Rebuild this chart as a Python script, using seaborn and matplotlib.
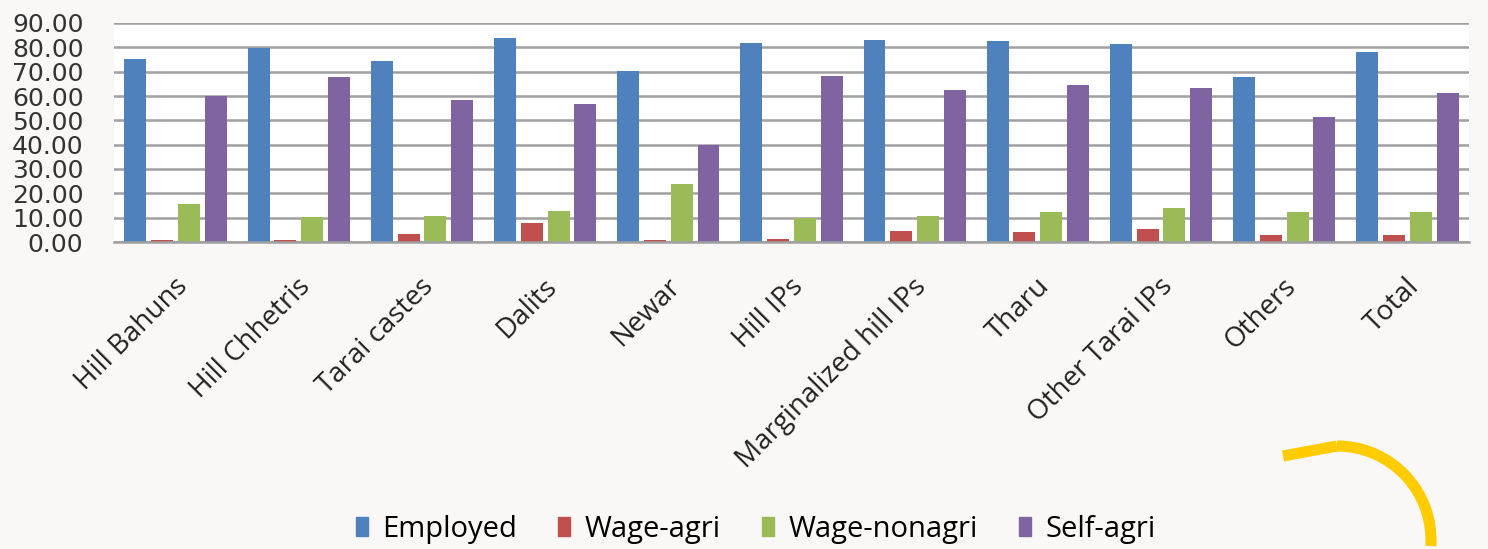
import numpy as np
import pandas as pd
import matplotlib.pyplot as plt
import matplotlib.transforms as mtransforms
import seaborn as sns
from matplotlib.patches import Arc
from matplotlib.lines import Line2D

categories = ["Hill Bahuns", "Hill Chhetris", "Tarai castes", "Dalits", "Newar",
              "Hill IPs", "Marginalized hill IPs", "Tharu", "Other Tarai IPs",
              "Others", "Total"]
series_names = ["Employed", "Wage-agri", "Wage-nonagri", "Self-agri"]

employed = [75.3, 79.7, 74.2, 83.8, 70.3, 81.9, 83.1, 82.5, 81.4, 67.8, 78.1]
wage_agri = [0.7, 0.7, 3.3, 7.8, 0.7, 1.4, 4.6, 4.0, 5.2, 2.7, 2.7]
wage_nonagri = [15.5, 10.1, 10.8, 12.9, 23.7, 9.9, 10.8, 12.2, 14.1, 12.2, 12.2]
self_agri = [60.0, 67.8, 58.4, 56.8, 39.9, 68.4, 62.6, 64.7, 63.3, 51.2, 61.4]

colors = ["#4f81bd", "#c0504d", "#9bbb59", "#8064a2"]
BG = "#f9f8f7"

df = pd.DataFrame({
    "category": categories * 4,
    "series": np.repeat(series_names, len(categories)),
    "value": employed + wage_agri + wage_nonagri + self_agri,
})

W, H = 1488, 549
fig = plt.figure(figsize=(W / 100, H / 100), dpi=100, facecolor=BG)
plt.rcParams["font.family"] = ["Open Sans", "DejaVu Sans"]

ax = fig.add_axes([114 / W, 1 - 242 / H, (1469 - 114) / W, (242 - 23) / H])
ax.set_facecolor("white")

sns.barplot(data=df, x="category", y="value", hue="series", hue_order=series_names,
            palette=colors, width=0.87, gap=0.18, ax=ax, saturation=1,
            edgecolor="none", legend=True)

ax.set_ylim(0, 90)
ax.set_yticks(np.arange(0, 91, 10))
ax.set_yticklabels([f"{v:.2f}" for v in range(0, 91, 10)], fontsize=18,
                   family=["DejaVu Sans"], color="#333333")
ax.yaxis.grid(True, color="#a0a0a0", linewidth=1.8)
ax.set_axisbelow(True)
ax.set_xlim(-0.5, len(categories) - 0.5)
ax.tick_params(axis="both", length=0)
ax.tick_params(axis="y", pad=22)
ax.tick_params(axis="x", pad=22)
offset = mtransforms.ScaledTranslation(-2 / 100, 0, fig.dpi_scale_trans)
for lbl in ax.get_xticklabels():
    lbl.set_rotation(45)
    lbl.set_ha("right")
    lbl.set_rotation_mode("anchor")
    lbl.set_fontsize(20)
    lbl.set_color("#222222")
    lbl.set_transform(lbl.get_transform() + offset)
ax.set_xlabel("")
ax.set_ylabel("")
for s in ["top", "right", "left"]:
    ax.spines[s].set_visible(False)
ax.spines["bottom"].set_color("#a0a0a0")
ax.spines["bottom"].set_linewidth(1.8)

ax.get_legend().remove()
handles = [plt.Rectangle((0, 0), 1, 1, color=c) for c in colors]
fig.legend(handles, series_names, loc="center", bbox_to_anchor=(0.508, 1 - 529 / H),
           ncol=4, frameon=False, fontsize=21, handlelength=0.42, handleheight=0.62,
           handletextpad=0.5, columnspacing=1.4)

# decorative yellow stroke, bottom right
yellow = "#ffcc00"
cx, cy, r = 1337, 540, 94
arc = Arc((cx / W, 1 - cy / H), 2 * r / W, 2 * r / H, theta1=-10, theta2=90,
          transform=fig.transFigure, color=yellow, linewidth=8)
fig.add_artist(arc)
fig.add_artist(Line2D([1283 / W, cx / W], [1 - 456 / H, 1 - (cy - r) / H],
                      transform=fig.transFigure, color=yellow, linewidth=8,
                      solid_capstyle="butt"))

fig.savefig("out.png", dpi=100, facecolor=BG)
